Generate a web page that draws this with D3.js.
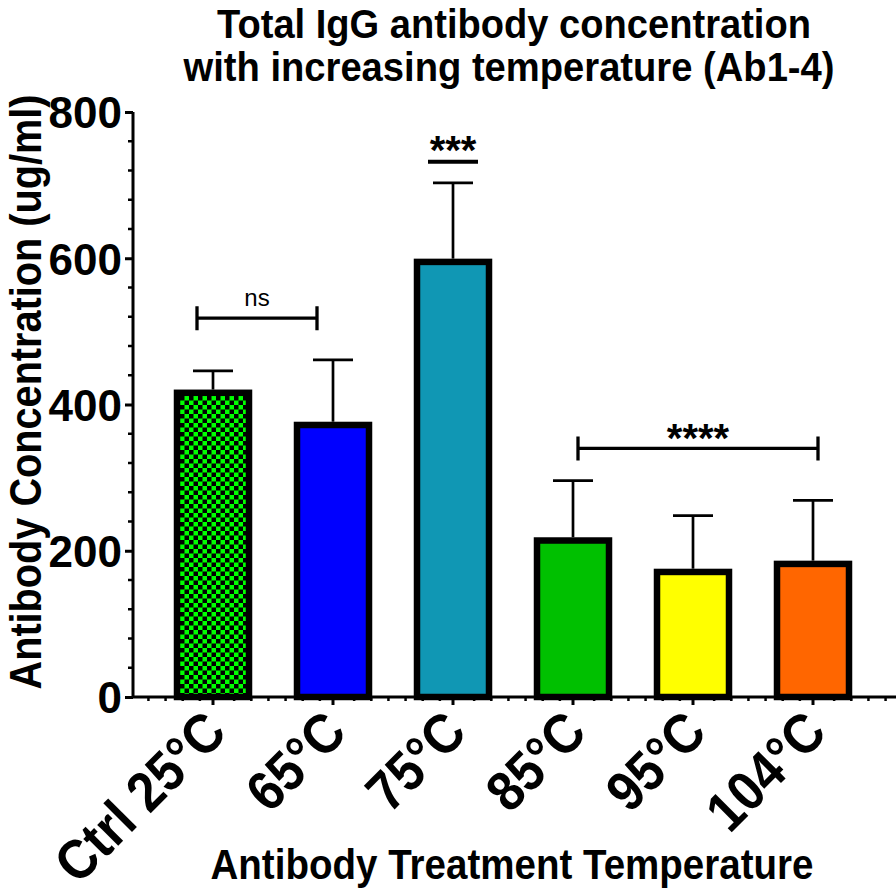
<!DOCTYPE html>
<html>
<head>
<meta charset="utf-8">
<script src="https://cdn.jsdelivr.net/npm/d3@7"></script>
<style>
  html, body { margin: 0; padding: 0; background: #fff; }
  svg { display: block; font-family: "Liberation Sans", Arial, sans-serif; }
</style>
</head>
<body>
<svg id="chart" width="896" height="896"></svg>
<script>
/* data */
var categories = ["Ctrl 25°C", "65°C", "75°C", "85°C", "95°C", "104°C"];
var means = [416, 372, 595, 214, 171, 182];
var sdUpper = [30, 89, 108, 82, 77, 87];
var barFills = ["url(#checker)", "#0000ff", "#1097b4", "#00c000", "#ffff00", "#ff6600"];
var yTicks = [0, 200, 400, 600, 800];

// significance marks
var brackets = [
  {from: "Ctrl 25°C", to: "65°C", y: 518, label: "ns"},
  {from: "85°C", to: "104°C", y: 340, label: "****"}
];
var starBars = [{cat: "75°C", y: 732, label: "***"}];

var svg = d3.select("#chart");

/* checkerboard fill for the control bar */
var defs = svg.append("defs");
var pat = defs.append("pattern")
  .attr("id", "checker")
  .attr("patternUnits", "userSpaceOnUse")
  .attr("width", 9).attr("height", 9);
pat.append("rect").attr("width", 9).attr("height", 9).attr("fill", "#00ff00");
pat.append("rect").attr("width", 4.5).attr("height", 4.5).attr("fill", "#000");
pat.append("rect").attr("x", 4.5).attr("y", 4.5).attr("width", 4.5).attr("height", 4.5).attr("fill", "#000");

var x = d3.scaleBand()
  .domain(categories)
  .range([133, 893])
  .paddingInner(0)
  .paddingOuter(1 / 6);

var y = d3.scaleLinear()
  .domain([0, 800])
  .range([697, 112]);

var cx = function(c) { return x(c) + x.bandwidth() / 2; };
var barW = x.step() * 0.6;

/* titles */
svg.append("text")
  .attr("x", 514).attr("y", 38)
  .attr("text-anchor", "middle")
  .attr("font-size", 40).attr("font-weight", "bold")
  .attr("textLength", 594).attr("lengthAdjust", "spacingAndGlyphs")
  .text("Total IgG antibody concentration");

svg.append("text")
  .attr("x", 509).attr("y", 81)
  .attr("text-anchor", "middle")
  .attr("font-size", 40).attr("font-weight", "bold")
  .attr("textLength", 651).attr("lengthAdjust", "spacingAndGlyphs")
  .text("with increasing temperature (Ab1-4)");

svg.append("text")
  .attr("transform", "translate(41,392) rotate(-90)")
  .attr("text-anchor", "middle")
  .attr("font-size", 44).attr("font-weight", "bold")
  .attr("textLength", 595).attr("lengthAdjust", "spacingAndGlyphs")
  .text("Antibody Concentration (ug/ml)");

svg.append("text")
  .attr("x", 512).attr("y", 879)
  .attr("text-anchor", "middle")
  .attr("font-size", 42).attr("font-weight", "bold")
  .attr("textLength", 603).attr("lengthAdjust", "spacingAndGlyphs")
  .text("Antibody Treatment Temperature");

/* bars */
svg.append("g")
  .selectAll("rect")
  .data(categories)
  .enter().append("rect")
  .attr("x", function(d) { return cx(d) - barW / 2; })
  .attr("y", function(d, i) { return y(means[i]); })
  .attr("width", barW)
  .attr("height", function(d, i) { return y(0) - y(means[i]); })
  .attr("fill", function(d, i) { return barFills[i]; })
  .attr("stroke", "#000")
  .attr("stroke-width", 6.5);

/* error bars (upper only) */
var err = svg.append("g")
  .attr("stroke", "#000")
  .attr("stroke-width", 2.7);

err.selectAll("line.stem")
  .data(categories)
  .enter().append("line")
  .attr("class", "stem")
  .attr("x1", cx).attr("x2", cx)
  .attr("y1", function(d, i) { return y(means[i]) - 3.25; })
  .attr("y2", function(d, i) { return y(means[i] + sdUpper[i]); });

err.selectAll("line.cap")
  .data(categories)
  .enter().append("line")
  .attr("class", "cap")
  .attr("x1", function(d) { return cx(d) - 20; })
  .attr("x2", function(d) { return cx(d) + 20; })
  .attr("y1", function(d, i) { return y(means[i] + sdUpper[i]); })
  .attr("y2", function(d, i) { return y(means[i] + sdUpper[i]); });

/* y axis */
var yAxis = d3.axisLeft(y)
  .tickValues(yTicks)
  .tickSize(8)
  .tickPadding(3);

var yMinor = d3.range(0, 801, 40).filter(function(v) { return v % 200 !== 0; });

var gy = svg.append("g")
  .attr("transform", "translate(133,0)")
  .call(yAxis);
gy.select(".domain").attr("stroke-width", 3).attr("d", "M0," + y(800) + "V" + y(0));
gy.selectAll(".tick line").attr("stroke-width", 3);
gy.selectAll(".tick text")
  .attr("font-size", 44).attr("font-weight", "bold")
  .attr("font-family", "Liberation Sans, Arial, sans-serif")
  .attr("dy", "0.36em");
gy.selectAll("line.minor")
  .data(yMinor)
  .enter().append("line")
  .attr("class", "minor")
  .attr("x1", 0).attr("x2", -5)
  .attr("y1", y).attr("y2", y)
  .attr("stroke", "#000").attr("stroke-width", 2.5);

/* x axis */
var xAxis = d3.axisBottom(x)
  .tickSize(8)
  .tickFormat("");

var gx = svg.append("g")
  .attr("transform", "translate(0," + y(0) + ")")
  .call(xAxis);
gx.select(".domain").attr("stroke-width", 3).attr("d", "M133,0H896");
gx.selectAll(".tick line").attr("stroke-width", 3);

var xMinor = [];
var first = cx(categories[0]);
for (var j = -5; j <= 6 * 7 + 5; j++) {
  if (j % 7 === 0) continue;
  var p = first + 4 + j * x.step() / 7;
  if (p > 138 && p < 896) xMinor.push(p);
}
gx.selectAll("line.minor")
  .data(xMinor)
  .enter().append("line")
  .attr("class", "minor")
  .attr("x1", function(d) { return d; }).attr("x2", function(d) { return d; })
  .attr("y1", 0).attr("y2", 4)
  .attr("stroke", "#000").attr("stroke-width", 2.5);

svg.append("g")
  .selectAll("text")
  .data(categories)
  .enter().append("text")
  .attr("transform", function(d) {
    return "translate(" + (cx(d) + 16) + "," + (y(0) + 38) + ") rotate(-45) scale(0.9,1)";
  })
  .attr("text-anchor", "end")
  .attr("font-size", 56).attr("font-weight", "bold")
  .text(function(d) { return d; });

/* significance brackets */
var bracketShift = [-16, 5];
brackets.forEach(function(b, i) {
  var x1 = cx(b.from) + bracketShift[i], x2 = cx(b.to) + bracketShift[i], yy = y(b.y);
  var g = svg.append("g").attr("stroke", "#000").attr("stroke-width", 3.3).attr("fill", "none");
  g.append("path").attr("d", "M" + x1 + "," + (yy - 12) + "V" + (yy + 12) +
    "M" + x1 + "," + yy + "H" + x2 +
    "M" + x2 + "," + (yy - 12) + "V" + (yy + 12));
  var star = b.label.charAt(0) === "*";
  svg.append("text")
    .attr("x", (x1 + x2) / 2)
    .attr("y", star ? yy + 4 : yy - 12)
    .attr("text-anchor", "middle")
    .attr("font-size", star ? 40 : 24)
    .attr("font-weight", star ? "bold" : "normal")
    .text(b.label);
});

starBars.forEach(function(s) {
  var c = cx(s.cat), yy = y(s.y);
  svg.append("line")
    .attr("x1", c - 25).attr("x2", c + 25)
    .attr("y1", yy).attr("y2", yy)
    .attr("stroke", "#000").attr("stroke-width", 4);
  svg.append("text")
    .attr("x", c).attr("y", yy + 2)
    .attr("text-anchor", "middle")
    .attr("font-size", 40).attr("font-weight", "bold")
    .text(s.label);
});
</script>
</body>
</html>
